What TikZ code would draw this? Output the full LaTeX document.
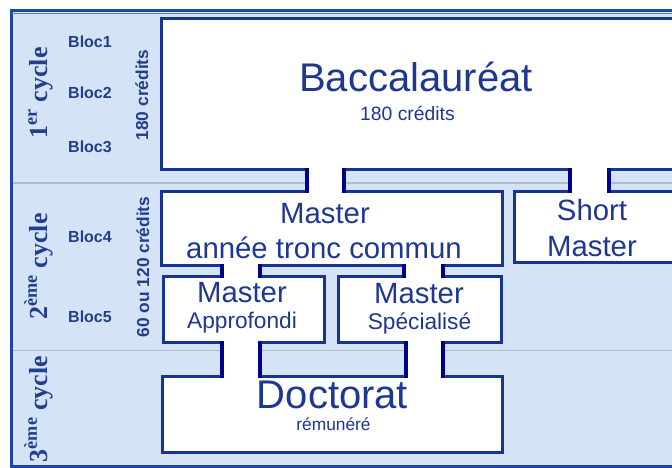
\documentclass[tikz,border=0pt]{standalone}
\usepackage{fontspec}
\setmainfont{Liberation Sans}
\newfontfamily\cyclefont{Liberation Serif}
\usetikzlibrary{fit,calc}
\definecolor{bgblue}{RGB}{212,228,246}
\definecolor{frameblue}{RGB}{30,70,170}
\definecolor{boxblue}{RGB}{22,52,148}
\definecolor{linkblue}{RGB}{0,0,140}
\definecolor{tblue}{RGB}{30,55,145}
\definecolor{lblue}{RGB}{35,62,140}
\definecolor{sepgray}{RGB}{172,188,208}
\begin{document}
\begin{tikzpicture}[x=0.75pt,y=-0.75pt,
  box/.style={draw=boxblue, line width=2.25pt, fill=white, inner sep=0pt, outer sep=0pt},
  link/.style={draw=linkblue, line width=3pt},
  gapfill/.style={fill=white},
  txt/.style={inner sep=0pt, anchor=base, text=tblue},
  big/.style={txt, font=\fontsize{30}{30}\selectfont},
  mid/.style={txt, font=\fontsize{22}{22}\selectfont},
  sub/.style={txt, font=\fontsize{17}{17}\selectfont},
  cred/.style={txt, font=\fontsize{14.5}{14.5}\selectfont},
  rem/.style={txt, font=\fontsize{13}{13}\selectfont},
  bloc/.style={txt, text=lblue, font=\bfseries\fontsize{12}{12}\selectfont},
  rcred/.style={txt, text=lblue, rotate=90, font=\bfseries\fontsize{13}{13}\selectfont},
  cyc/.style={txt, text=lblue, rotate=90, font=\cyclefont\bfseries\fontsize{19.5}{19.5}\selectfont}
]
\useasboundingbox (0,0) rectangle (672,468);
\clip (0,0) rectangle (672,468);
% frame and background
\fill[white] (0,0) rectangle (672,468);
\draw[frameblue, line width=2.25pt, fill=bgblue] (11,10) rectangle (700,466);
\draw[frameblue!70, line width=0.9pt] (12,13.5) -- (700,13.5);
\draw[sepgray, line width=0.9pt] (12.5,183) -- (700,183);
\draw[sepgray, line width=0.9pt] (12.5,350.5) -- (700,350.5);
% boxes
\node[box, fit={(161,18.5) (690,169.5)}] (bac) {};
\node[box, fit={(161,191.5) (502,265)}] (tronc) {};
\node[box, fit={(514.5,191.5) (690,262.5)}] (short) {};
\node[box, fit={(163.5,276.5) (324.5,342.5)}] (appro) {};
\node[box, fit={(338.5,276.5) (501.5,342.5)}] (spec) {};
\node[box, fit={(162.5,376) (502.5,452.5)}] (doct) {};
% channel x positions
\coordinate (b1) at (307,0);
\coordinate (b2) at (344,0);
\coordinate (s1) at (570,0);
\coordinate (s2) at (609,0);
\coordinate (t1) at (221.5,0);
\coordinate (t2) at (260,0);
\coordinate (t3) at (404,0);
\coordinate (t4) at (443,0);
\coordinate (d1) at (222,0);
\coordinate (d2) at (260,0);
\coordinate (d3) at (406,0);
\coordinate (d4) at (443,0);
% white channels
\fill[gapfill] ($(bac.south -| b1)+(0,-2.5)$) rectangle ($(tronc.north -| b2)+(0,2.5)$);
\fill[gapfill] ($(bac.south -| s1)+(0,-2.5)$) rectangle ($(short.north -| s2)+(0,2.5)$);
\fill[gapfill] ($(tronc.south -| t1)+(0,-2.5)$) rectangle ($(appro.north -| t2)+(0,2.5)$);
\fill[gapfill] ($(tronc.south -| t3)+(0,-2.5)$) rectangle ($(spec.north -| t4)+(0,2.5)$);
\fill[gapfill] ($(appro.south -| d1)+(0,-2.5)$) rectangle ($(doct.north -| d2)+(0,2.5)$);
\fill[gapfill] ($(spec.south -| d3)+(0,-2.5)$) rectangle ($(doct.north -| d4)+(0,2.5)$);
% channel walls
\foreach \k in {b1,b2}
  \draw[link] ($(bac.south -| \k)+(0,-1.5)$) -- ($(tronc.north -| \k)+(0,1.5)$);
\foreach \k in {s1,s2}
  \draw[link] ($(bac.south -| \k)+(0,-1.5)$) -- ($(short.north -| \k)+(0,1.5)$);
\foreach \k in {t1,t2}
  \draw[link] ($(tronc.south -| \k)+(0,-1.5)$) -- ($(appro.north -| \k)+(0,1.5)$);
\foreach \k in {t3,t4}
  \draw[link] ($(tronc.south -| \k)+(0,-1.5)$) -- ($(spec.north -| \k)+(0,1.5)$);
\foreach \k in {d1,d2}
  \draw[link] ($(appro.south -| \k)+(0,-1.5)$) -- ($(doct.north -| \k)+(0,1.5)$);
\foreach \k in {d3,d4}
  \draw[link] ($(spec.south -| \k)+(0,-1.5)$) -- ($(doct.north -| \k)+(0,1.5)$);
% box texts
\node[big] (bactitle) at (416,91) {Baccalauréat};
\node[cred] (baccred) at (407.5,120) {180 crédits};
\node[mid] (tr1) at (325,223) {Master};
\node[mid] (tr2) at (324,258) {année tronc commun};
\node[mid] (sh1) at (592,220) {Short};
\node[mid] (sh2) at (592,256) {Master};
\node[mid] (ap1) at (242,302) {Master};
\node[sub] (ap2) at (242,328) {Approfondi};
\node[mid] (sp1) at (419,303) {Master};
\node[sub] (sp2) at (419.5,329) {Spécialisé};
\node[big] (dt1) at (332.5,408) {Doctorat};
\node[rem] (dt2) at (333.5,430) {rémunéré};
% left labels
\node[bloc] (bl1) at (90,47) {Bloc1};
\node[bloc] (bl2) at (90,98) {Bloc2};
\node[bloc] (bl3) at (90,152) {Bloc3};
\node[bloc] (bl4) at (90,242) {Bloc4};
\node[bloc] (bl5) at (90,322) {Bloc5};
\node[rcred] (cr1) at (148,95) {180 crédits};
\node[rcred] (cr2) at (149,267) {60 ou 120 crédits};
\node[cyc] (cy1) at (47,93) {1\textsuperscript{er} cycle};
\node[cyc] (cy2) at (47,266.5) {2\textsuperscript{ème} cycle};
\node[cyc] (cy3) at (47,409) {3\textsuperscript{ème} cycle};
\end{tikzpicture}
\end{document}
